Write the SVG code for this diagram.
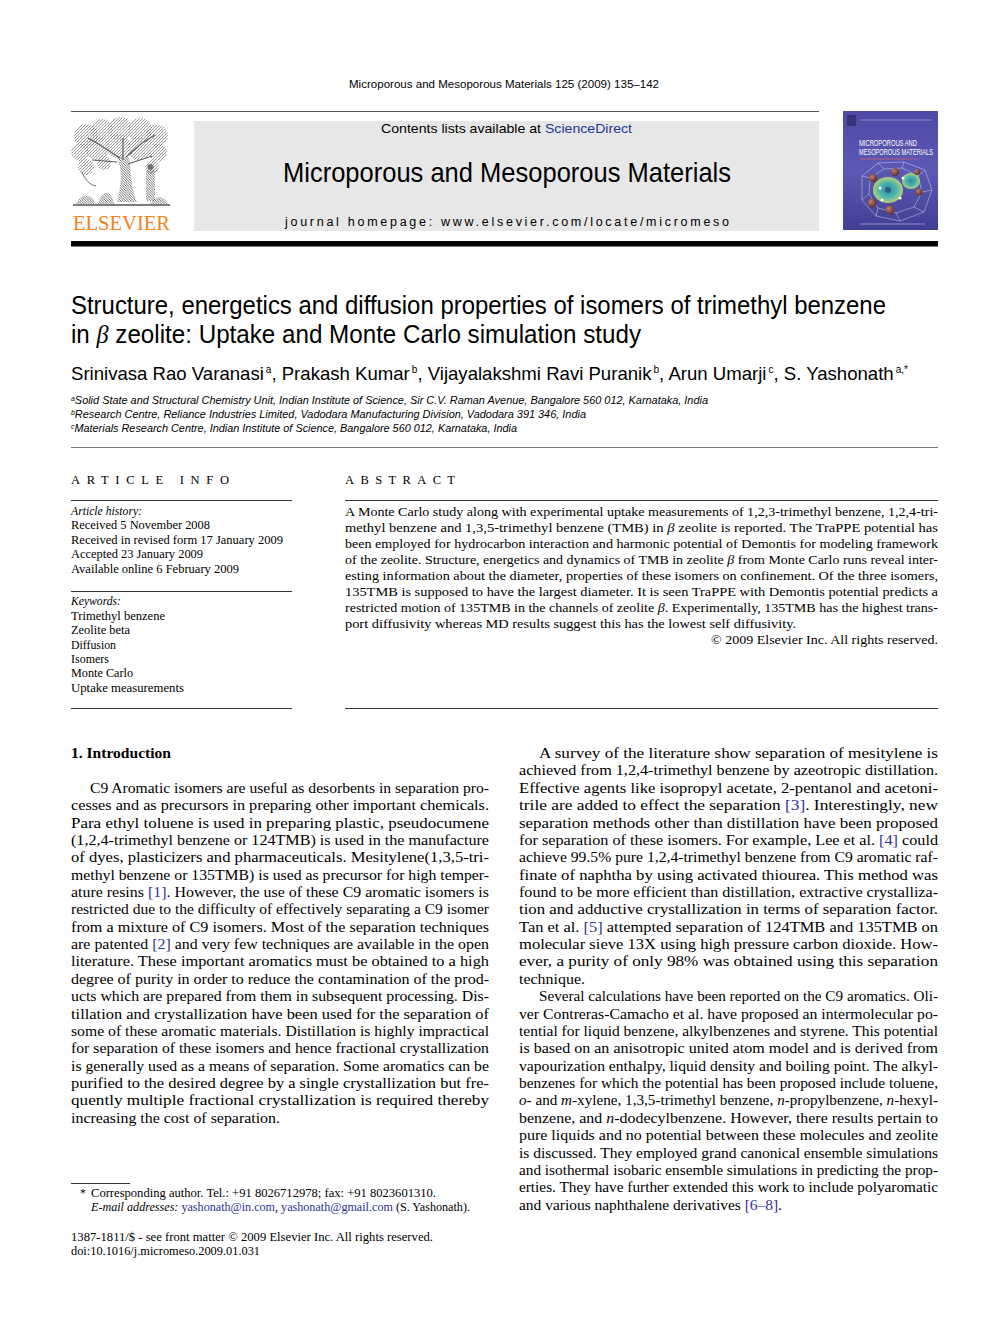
<svg xmlns="http://www.w3.org/2000/svg" width="992" height="1323" viewBox="0 0 992 1323">
<style>
.sans{font-family:"Liberation Sans Narrow","Liberation Sans",Arial,sans-serif;fill:#000}
.ser{font-family:"Liberation Serif","Times New Roman",serif;fill:#000}
.b{font-size:14.5px}
.ab{font-size:13px}
.sm{font-size:12px}
.fn{font-size:11.5px}
.lk{fill:#2e3192}
.it{font-style:italic}
.rule{stroke:#333;stroke-width:1}
</style>
<defs>
<pattern id="hatch" width="3" height="3" patternUnits="userSpaceOnUse"><path d="M0,3 L3,0" stroke="#5a5a5a" stroke-width="0.7"/><circle cx="0.8" cy="0.8" r="0.4" fill="#777"/></pattern>
<pattern id="hatch2" width="2.5" height="2.5" patternUnits="userSpaceOnUse"><path d="M0,0 L2.5,2.5" stroke="#333" stroke-width="0.8"/></pattern>
<linearGradient id="cov" x1="0" y1="0" x2="0" y2="1"><stop offset="0" stop-color="#4e4aa6"/><stop offset="0.5" stop-color="#5a5ab4"/><stop offset="1" stop-color="#3f3f94"/></linearGradient>
<radialGradient id="ring" cx="0.5" cy="0.5" r="0.5"><stop offset="0" stop-color="#2a8aa0"/><stop offset="0.6" stop-color="#4fb8b0"/><stop offset="1" stop-color="#b8d070"/></radialGradient>
<radialGradient id="ball" cx="0.35" cy="0.35" r="0.7"><stop offset="0" stop-color="#c08070"/><stop offset="1" stop-color="#5a2a28"/></radialGradient>
</defs>

<g id="header">
<text class="sans" x="349" y="88" font-size="11.5" textLength="310" lengthAdjust="spacingAndGlyphs">Microporous and Mesoporous Materials 125 (2009) 135–142</text>
<line x1="71" y1="111.5" x2="819" y2="111.5" stroke="#555" stroke-width="1"/>
</g>

<g id="elsevier-logo">
<g opacity="0.85">
<circle cx="86" cy="136" r="12" fill="url(#hatch)"/>
<circle cx="102" cy="130" r="11" fill="url(#hatch)"/>
<circle cx="120" cy="129" r="12" fill="url(#hatch)"/>
<circle cx="140" cy="130" r="12" fill="url(#hatch)"/>
<circle cx="157" cy="136" r="11" fill="url(#hatch)"/>
<circle cx="80" cy="152" r="9" fill="url(#hatch)"/>
<circle cx="97" cy="148" r="12" fill="url(#hatch)"/>
<circle cx="118" cy="146" r="12" fill="url(#hatch)"/>
<circle cx="139" cy="148" r="12" fill="url(#hatch)"/>
<circle cx="158" cy="153" r="9" fill="url(#hatch)"/>
<circle cx="86" cy="167" r="8" fill="url(#hatch)"/>
<circle cx="104" cy="163" r="7" fill="url(#hatch)"/>
<circle cx="152" cy="167" r="7" fill="url(#hatch)"/>
<path d="M117,202 C121,186 123,172 117,157 L129,157 C131,172 131,188 137,202 Z" fill="url(#hatch2)"/>
<path d="M120,158 L100,145 M126,157 L142,143 M123,160 L123,138 M128,164 L152,156 M117,162 L92,160 M100,145 L88,138 M142,143 L155,135" stroke="#444" stroke-width="1.2" fill="none"/>
<path d="M82,172 C85,180 90,185 96,186" stroke="#555" stroke-width="1" fill="none"/>
<rect x="146" y="170" width="9" height="31" fill="url(#hatch2)"/>
<circle cx="150.5" cy="167" r="3" fill="#555"/>
<path d="M76,204 C82,192 92,194 96,204 Z M98,204 C102,188 112,190 114,204 Z M150,204 C156,194 164,196 168,204 Z" fill="url(#hatch2)"/>
<line x1="73" y1="205" x2="170" y2="205" stroke="#333" stroke-width="1.5"/>
</g>
<text class="ser" x="73" y="230" font-size="21" style="fill:#f58220" textLength="97" lengthAdjust="spacingAndGlyphs">ELSEVIER</text>
</g>

<g id="journal-banner">
<rect x="194" y="121" width="625" height="110" fill="#e7e7e7"/>
<text class="sans" x="381" y="133" font-size="13" textLength="251" lengthAdjust="spacingAndGlyphs">Contents lists available at <tspan style="fill:#1f3a93">ScienceDirect</tspan></text>
<text class="sans" x="283" y="182" font-size="28" textLength="448" lengthAdjust="spacingAndGlyphs">Microporous and Mesoporous Materials</text>
<text class="sans" x="285" y="226" font-size="12.5" textLength="444" lengthAdjust="spacing" style="font-family:'Liberation Sans',Arial,sans-serif">journal homepage: www.elsevier.com/locate/micromeso</text>
</g>

<g id="cover">
<rect x="843" y="111" width="95" height="119" fill="url(#cov)"/>
<rect x="847" y="115" width="9" height="11" fill="#2a2a66" opacity="0.7"/>
<line x1="860" y1="120" x2="932" y2="120" stroke="#b8b8e0" stroke-width="1" opacity="0.6"/>
<text class="sans" x="859" y="146" font-size="9" style="fill:#fff" textLength="58" lengthAdjust="spacingAndGlyphs">MICROPOROUS AND</text>
<text class="sans" x="859" y="155" font-size="9" style="fill:#fff" textLength="74" lengthAdjust="spacingAndGlyphs">MESOPOROUS MATERIALS</text>
<line x1="860" y1="159" x2="918" y2="159" stroke="#e06070" stroke-width="0.8" opacity="0.8"/>
<g fill="none" stroke="#d8d8f0" stroke-width="0.6" opacity="0.8">
<path d="M862,176 L878,163 L904,162 L925,170 L932,190 L924,212 L900,221 L876,216 L862,200 Z"/>
<path d="M870,178 L884,169 L902,168 L918,176 L922,192 L914,207 L896,213 L878,208 L869,194 Z"/>
<path d="M878,163 L884,169 M904,162 L902,168 M925,170 L918,176 M932,190 L922,192 M924,212 L914,207 M900,221 L896,213 M876,216 L878,208 M862,200 L869,194 M862,176 L870,178"/>
</g>
<ellipse cx="888" cy="190" rx="15" ry="13" fill="url(#ring)"/>
<ellipse cx="911" cy="181" rx="9" ry="8" fill="url(#ring)"/>
<circle cx="888" cy="190" r="3" fill="#2e5a8a"/>
<circle cx="873" cy="178" r="4" fill="url(#ball)"/>
<circle cx="895" cy="172" r="4" fill="url(#ball)"/>
<circle cx="872" cy="203" r="4.5" fill="url(#ball)"/>
<circle cx="890" cy="210" r="4.5" fill="url(#ball)"/>
<circle cx="919" cy="192" r="3.5" fill="url(#ball)"/>
<circle cx="917" cy="172" r="3" fill="url(#ball)"/>
<circle cx="880" cy="188" r="1.5" fill="#fff"/>
<circle cx="900" cy="198" r="1.5" fill="#fff"/>
<circle cx="882" cy="200" r="1.5" fill="#fff"/>
<circle cx="903" cy="178" r="1.5" fill="#fff"/>
<line x1="860" y1="224" x2="925" y2="224" stroke="#c8c8e8" stroke-width="1" opacity="0.6"/>
</g>

<rect x="71" y="241" width="867" height="5.5" fill="#000"/>

<g id="title">
<text class="sans" x="71" y="314" font-size="25.5" textLength="815" lengthAdjust="spacingAndGlyphs">Structure, energetics and diffusion properties of isomers of trimethyl benzene</text>
<text class="sans" x="71" y="343" font-size="25.5" textLength="570" lengthAdjust="spacingAndGlyphs">in <tspan class="it" style="font-family:'Liberation Serif',serif">β</tspan> zeolite: Uptake and Monte Carlo simulation study</text>
</g>

<g id="authors">
<text class="sans" x="71" y="380" font-size="18.5" textLength="837" lengthAdjust="spacingAndGlyphs">Srinivasa Rao Varanasi<tspan dx="2" dy="-7" font-size="10">a</tspan><tspan dy="7">, Prakash Kumar</tspan><tspan dx="2" dy="-7" font-size="10">b</tspan><tspan dy="7">, Vijayalakshmi Ravi Puranik</tspan><tspan dx="2" dy="-7" font-size="10">b</tspan><tspan dy="7">, Arun Umarji</tspan><tspan dx="2" dy="-7" font-size="10">c</tspan><tspan dy="7">, S. Yashonath</tspan><tspan dx="2" dy="-7" font-size="10">a,*</tspan></text>
</g>

<g id="affiliations">
<text class="sans it" x="71" y="404" font-size="11" textLength="637" lengthAdjust="spacingAndGlyphs"><tspan dy="-3" font-size="7">a</tspan><tspan dy="3">Solid State and Structural Chemistry Unit, Indian Institute of Science, Sir C.V. Raman Avenue, Bangalore 560 012, Karnataka, India</tspan></text>
<text class="sans it" x="71" y="418" font-size="11" textLength="515" lengthAdjust="spacingAndGlyphs"><tspan dy="-3" font-size="7">b</tspan><tspan dy="3">Research Centre, Reliance Industries Limited, Vadodara Manufacturing Division, Vadodara 391 346, India</tspan></text>
<text class="sans it" x="71" y="432" font-size="11" textLength="446" lengthAdjust="spacingAndGlyphs"><tspan dy="-3" font-size="7">c</tspan><tspan dy="3">Materials Research Centre, Indian Institute of Science, Bangalore 560 012, Karnataka, India</tspan></text>
<line x1="71" y1="447.5" x2="938" y2="447.5" stroke="#555" stroke-width="0.8"/>
</g>

<g id="article-info">
<text class="ser" x="71" y="484" font-size="12.5" textLength="158" lengthAdjust="spacing">ARTICLE INFO</text>
<line class="rule" x1="71" y1="500.5" x2="292" y2="500.5"/>
<text class="ser sm it" x="71" y="515" textLength="71" lengthAdjust="spacingAndGlyphs">Article history:</text>
<text class="ser sm" x="71" y="529" textLength="139" lengthAdjust="spacingAndGlyphs">Received 5 November 2008</text>
<text class="ser sm" x="71" y="544" textLength="212" lengthAdjust="spacingAndGlyphs">Received in revised form 17 January 2009</text>
<text class="ser sm" x="71" y="558" textLength="132" lengthAdjust="spacingAndGlyphs">Accepted 23 January 2009</text>
<text class="ser sm" x="71" y="573" textLength="168" lengthAdjust="spacingAndGlyphs">Available online 6 February 2009</text>
<line class="rule" x1="71" y1="591.5" x2="292" y2="591.5"/>
<text class="ser sm it" x="71" y="605" textLength="50" lengthAdjust="spacingAndGlyphs">Keywords:</text>
<text class="ser sm" x="71" y="620" textLength="94" lengthAdjust="spacingAndGlyphs">Trimethyl benzene</text>
<text class="ser sm" x="71" y="634" textLength="59" lengthAdjust="spacingAndGlyphs">Zeolite beta</text>
<text class="ser sm" x="71" y="649" textLength="45" lengthAdjust="spacingAndGlyphs">Diffusion</text>
<text class="ser sm" x="71" y="663" textLength="38" lengthAdjust="spacingAndGlyphs">Isomers</text>
<text class="ser sm" x="71" y="677" textLength="62" lengthAdjust="spacingAndGlyphs">Monte Carlo</text>
<text class="ser sm" x="71" y="692" textLength="113" lengthAdjust="spacingAndGlyphs">Uptake measurements</text>
<line class="rule" x1="71" y1="708.5" x2="292" y2="708.5"/>
</g>

<g id="abstract">
<text class="ser" x="345" y="484" font-size="12.5" textLength="110" lengthAdjust="spacing">ABSTRACT</text>
<line class="rule" x1="345" y1="500.5" x2="938" y2="500.5"/>
<text class="ser ab" x="345" y="516" textLength="593" lengthAdjust="spacingAndGlyphs">A Monte Carlo study along with experimental uptake measurements of 1,2,3-trimethyl benzene, 1,2,4-tri-</text>
<text class="ser ab" x="345" y="532" textLength="593" lengthAdjust="spacingAndGlyphs">methyl benzene and 1,3,5-trimethyl benzene (TMB) in <tspan class="it">β</tspan> zeolite is reported. The TraPPE potential has</text>
<text class="ser ab" x="345" y="548" textLength="593" lengthAdjust="spacingAndGlyphs">been employed for hydrocarbon interaction and harmonic potential of Demontis for modeling framework</text>
<text class="ser ab" x="345" y="564" textLength="593" lengthAdjust="spacingAndGlyphs">of the zeolite. Structure, energetics and dynamics of TMB in zeolite <tspan class="it">β</tspan> from Monte Carlo runs reveal inter-</text>
<text class="ser ab" x="345" y="580" textLength="593" lengthAdjust="spacingAndGlyphs">esting information about the diameter, properties of these isomers on confinement. Of the three isomers,</text>
<text class="ser ab" x="345" y="596" textLength="593" lengthAdjust="spacingAndGlyphs">135TMB is supposed to have the largest diameter. It is seen TraPPE with Demontis potential predicts a</text>
<text class="ser ab" x="345" y="612" textLength="593" lengthAdjust="spacingAndGlyphs">restricted motion of 135TMB in the channels of zeolite <tspan class="it">β</tspan>. Experimentally, 135TMB has the highest trans-</text>
<text class="ser ab" x="345" y="628" textLength="451" lengthAdjust="spacingAndGlyphs">port diffusivity whereas MD results suggest this has the lowest self diffusivity.</text>
<text class="ser ab" x="711" y="644" textLength="227" lengthAdjust="spacingAndGlyphs">© 2009 Elsevier Inc. All rights reserved.</text>
<line class="rule" x1="345" y1="708.5" x2="938" y2="708.5"/>
</g>

<g id="intro-left">
<text class="ser" x="71" y="758" font-size="14.5" font-weight="bold" textLength="100" lengthAdjust="spacingAndGlyphs">1. Introduction</text>
<text class="ser b" x="90" y="792.7" textLength="399" lengthAdjust="spacingAndGlyphs">C9 Aromatic isomers are useful as desorbents in separation pro-</text>
<text class="ser b" x="71" y="810.1" textLength="418" lengthAdjust="spacingAndGlyphs">cesses and as precursors in preparing other important chemicals.</text>
<text class="ser b" x="71" y="827.5" textLength="418" lengthAdjust="spacingAndGlyphs">Para ethyl toluene is used in preparing plastic, pseudocumene</text>
<text class="ser b" x="71" y="844.9" textLength="418" lengthAdjust="spacingAndGlyphs">(1,2,4-trimethyl benzene or 124TMB) is used in the manufacture</text>
<text class="ser b" x="71" y="862.2" textLength="418" lengthAdjust="spacingAndGlyphs">of dyes, plasticizers and pharmaceuticals. Mesitylene(1,3,5-tri-</text>
<text class="ser b" x="71" y="879.6" textLength="418" lengthAdjust="spacingAndGlyphs">methyl benzene or 135TMB) is used as precursor for high temper-</text>
<text class="ser b" x="71" y="897.0" textLength="418" lengthAdjust="spacingAndGlyphs">ature resins <tspan class="lk">[1]</tspan>. However, the use of these C9 aromatic isomers is</text>
<text class="ser b" x="71" y="914.3" textLength="418" lengthAdjust="spacingAndGlyphs">restricted due to the difficulty of effectively separating a C9 isomer</text>
<text class="ser b" x="71" y="931.7" textLength="418" lengthAdjust="spacingAndGlyphs">from a mixture of C9 isomers. Most of the separation techniques</text>
<text class="ser b" x="71" y="949.1" textLength="418" lengthAdjust="spacingAndGlyphs">are patented <tspan class="lk">[2]</tspan> and very few techniques are available in the open</text>
<text class="ser b" x="71" y="966.4" textLength="418" lengthAdjust="spacingAndGlyphs">literature. These important aromatics must be obtained to a high</text>
<text class="ser b" x="71" y="983.8" textLength="418" lengthAdjust="spacingAndGlyphs">degree of purity in order to reduce the contamination of the prod-</text>
<text class="ser b" x="71" y="1001.2" textLength="418" lengthAdjust="spacingAndGlyphs">ucts which are prepared from them in subsequent processing. Dis-</text>
<text class="ser b" x="71" y="1018.6" textLength="418" lengthAdjust="spacingAndGlyphs">tillation and crystallization have been used for the separation of</text>
<text class="ser b" x="71" y="1035.9" textLength="418" lengthAdjust="spacingAndGlyphs">some of these aromatic materials. Distillation is highly impractical</text>
<text class="ser b" x="71" y="1053.3" textLength="418" lengthAdjust="spacingAndGlyphs">for separation of these isomers and hence fractional crystallization</text>
<text class="ser b" x="71" y="1070.7" textLength="418" lengthAdjust="spacingAndGlyphs">is generally used as a means of separation. Some aromatics can be</text>
<text class="ser b" x="71" y="1088.0" textLength="418" lengthAdjust="spacingAndGlyphs">purified to the desired degree by a single crystallization but fre-</text>
<text class="ser b" x="71" y="1105.4" textLength="418" lengthAdjust="spacingAndGlyphs">quently multiple fractional crystallization is required thereby</text>
<text class="ser b" x="71" y="1122.8" textLength="209" lengthAdjust="spacingAndGlyphs">increasing the cost of separation.</text>
</g>

<g id="intro-right">
<text class="ser b" x="539" y="758" textLength="399" lengthAdjust="spacingAndGlyphs">A survey of the literature show separation of mesitylene is</text>
<text class="ser b" x="519" y="775.4" textLength="419" lengthAdjust="spacingAndGlyphs">achieved from 1,2,4-trimethyl benzene by azeotropic distillation.</text>
<text class="ser b" x="519" y="792.7" textLength="419" lengthAdjust="spacingAndGlyphs">Effective agents like isopropyl acetate, 2-pentanol and acetoni-</text>
<text class="ser b" x="519" y="810.1" textLength="419" lengthAdjust="spacingAndGlyphs">trile are added to effect the separation <tspan class="lk">[3]</tspan>. Interestingly, new</text>
<text class="ser b" x="519" y="827.5" textLength="419" lengthAdjust="spacingAndGlyphs">separation methods other than distillation have been proposed</text>
<text class="ser b" x="519" y="844.9" textLength="419" lengthAdjust="spacingAndGlyphs">for separation of these isomers. For example, Lee et al. <tspan class="lk">[4]</tspan> could</text>
<text class="ser b" x="519" y="862.2" textLength="419" lengthAdjust="spacingAndGlyphs">achieve 99.5% pure 1,2,4-trimethyl benzene from C9 aromatic raf-</text>
<text class="ser b" x="519" y="879.6" textLength="419" lengthAdjust="spacingAndGlyphs">finate of naphtha by using activated thiourea. This method was</text>
<text class="ser b" x="519" y="897.0" textLength="419" lengthAdjust="spacingAndGlyphs">found to be more efficient than distillation, extractive crystalliza-</text>
<text class="ser b" x="519" y="914.3" textLength="419" lengthAdjust="spacingAndGlyphs">tion and adductive crystallization in terms of separation factor.</text>
<text class="ser b" x="519" y="931.7" textLength="419" lengthAdjust="spacingAndGlyphs">Tan et al. <tspan class="lk">[5]</tspan> attempted separation of 124TMB and 135TMB on</text>
<text class="ser b" x="519" y="949.1" textLength="419" lengthAdjust="spacingAndGlyphs">molecular sieve 13X using high pressure carbon dioxide. How-</text>
<text class="ser b" x="519" y="966.4" textLength="419" lengthAdjust="spacingAndGlyphs">ever, a purity of only 98% was obtained using this separation</text>
<text class="ser b" x="519" y="983.8" textLength="66" lengthAdjust="spacingAndGlyphs">technique.</text>
<text class="ser b" x="539" y="1001.2" textLength="399" lengthAdjust="spacingAndGlyphs">Several calculations have been reported on the C9 aromatics. Oli-</text>
<text class="ser b" x="519" y="1018.6" textLength="419" lengthAdjust="spacingAndGlyphs">ver Contreras-Camacho et al. have proposed an intermolecular po-</text>
<text class="ser b" x="519" y="1035.9" textLength="419" lengthAdjust="spacingAndGlyphs">tential for liquid benzene, alkylbenzenes and styrene. This potential</text>
<text class="ser b" x="519" y="1053.3" textLength="419" lengthAdjust="spacingAndGlyphs">is based on an anisotropic united atom model and is derived from</text>
<text class="ser b" x="519" y="1070.7" textLength="419" lengthAdjust="spacingAndGlyphs">vapourization enthalpy, liquid density and boiling point. The alkyl-</text>
<text class="ser b" x="519" y="1088.0" textLength="419" lengthAdjust="spacingAndGlyphs">benzenes for which the potential has been proposed include toluene,</text>
<text class="ser b" x="519" y="1105.4" textLength="419" lengthAdjust="spacingAndGlyphs"><tspan class="it">o</tspan>- and <tspan class="it">m</tspan>-xylene, 1,3,5-trimethyl benzene, <tspan class="it">n</tspan>-propylbenzene, <tspan class="it">n</tspan>-hexyl-</text>
<text class="ser b" x="519" y="1122.8" textLength="419" lengthAdjust="spacingAndGlyphs">benzene, and <tspan class="it">n</tspan>-dodecylbenzene. However, there results pertain to</text>
<text class="ser b" x="519" y="1140.1" textLength="419" lengthAdjust="spacingAndGlyphs">pure liquids and no potential between these molecules and zeolite</text>
<text class="ser b" x="519" y="1157.5" textLength="419" lengthAdjust="spacingAndGlyphs">is discussed. They employed grand canonical ensemble simulations</text>
<text class="ser b" x="519" y="1174.9" textLength="419" lengthAdjust="spacingAndGlyphs">and isothermal isobaric ensemble simulations in predicting the prop-</text>
<text class="ser b" x="519" y="1192.3" textLength="419" lengthAdjust="spacingAndGlyphs">erties. They have further extended this work to include polyaromatic</text>
<text class="ser b" x="519" y="1209.6" textLength="263" lengthAdjust="spacingAndGlyphs">and various naphthalene derivatives <tspan class="lk">[6–8]</tspan>.</text>
</g>

<g id="footnotes">
<line x1="71" y1="1183.5" x2="130" y2="1183.5" stroke="#000" stroke-width="0.8"/>
<text class="ser fn" x="80" y="1197">*</text>
<text class="ser fn" x="91" y="1197" textLength="345" lengthAdjust="spacingAndGlyphs">Corresponding author. Tel.: +91 8026712978; fax: +91 8023601310.</text>
<text class="ser fn" x="91" y="1211" textLength="379" lengthAdjust="spacingAndGlyphs"><tspan class="it">E-mail addresses:</tspan> <tspan class="lk">yashonath@in.com</tspan>, <tspan class="lk">yashonath@gmail.com</tspan> (S. Yashonath).</text>
<text class="ser fn" x="71" y="1241" textLength="362" lengthAdjust="spacingAndGlyphs">1387-1811/$ - see front matter © 2009 Elsevier Inc. All rights reserved.</text>
<text class="ser fn" x="71" y="1255" textLength="189" lengthAdjust="spacingAndGlyphs">doi:10.1016/j.micromeso.2009.01.031</text>
</g>
</svg>
